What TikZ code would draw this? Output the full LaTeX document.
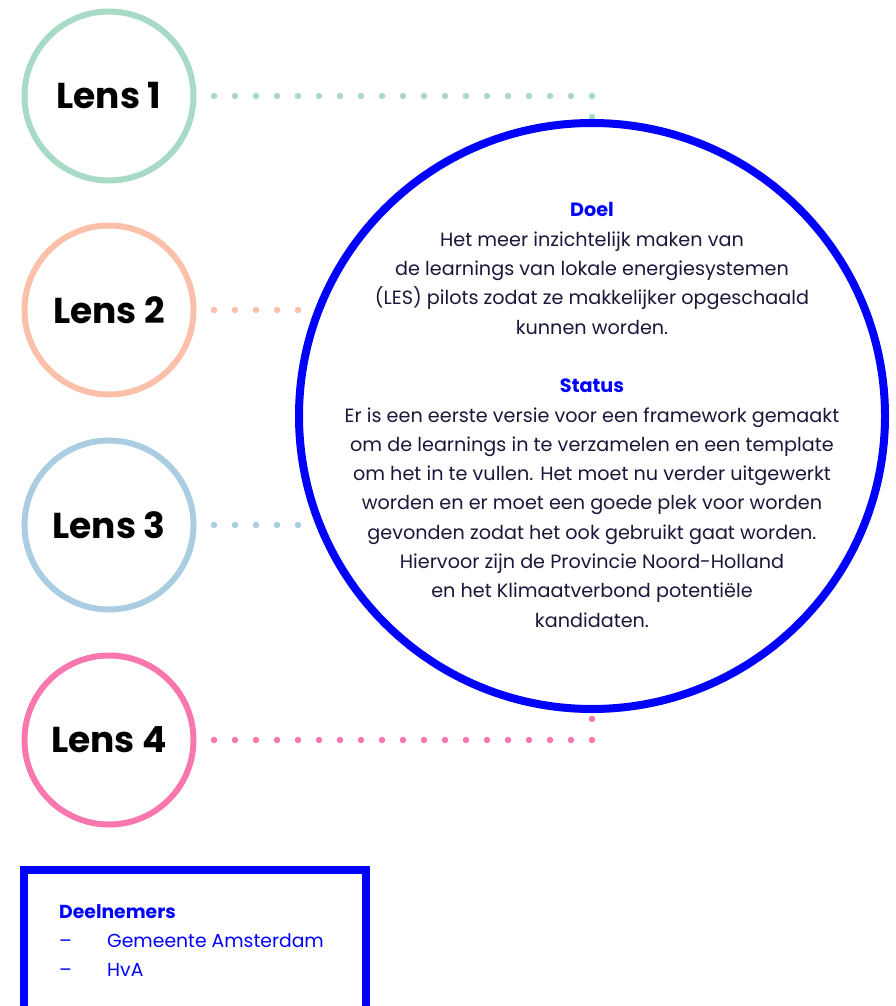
\documentclass[tikz,border=0pt]{standalone}
\usepackage{fontspec}
\setmainfont{Poppins}
\usetikzlibrary{positioning}
\definecolor{lensgreen}{RGB}{168,219,197}
\definecolor{lenssalmon}{RGB}{251,192,170}
\definecolor{lensblue}{RGB}{170,205,226}
\definecolor{lenspink}{RGB}{248,120,174}
\definecolor{kernblauw}{RGB}{0,0,255}
\definecolor{tekstdonker}{RGB}{30,22,58}

\begin{document}
\begin{tikzpicture}[x=1pt,y=-1pt]
	\tikzset{
		lens/.style={circle, draw, line width=6pt, minimum size=169pt, inner sep=0pt,
			font=\fontsize{36}{40}\selectfont\bfseries},
		dotline/.style={line width=6.5pt, line cap=round, dash pattern=on 0pt off 21pt},
		kern/.style={circle, draw=kernblauw, fill=white, line width=8pt, minimum size=586pt,
			inner sep=0pt},
		kerntekst/.style={align=center, text=tekstdonker, inner sep=0pt,
			font=\fontsize{19.2}{29.3}\selectfont}
	}
	\useasboundingbox (0,0) rectangle (895,1006);
	\clip (0,0) rectangle (895,1006);
	% de vier lenzen
	\node[lens, draw=lensgreen] (lens1) at (109,96) {Lens 1};
	\node[lens, draw=lenssalmon] (lens2) at (109,310) {Lens 2};
	\node[lens, draw=lensblue] (lens3) at (109,525) {Lens 3};
	\node[lens, draw=lenspink] (lens4) at (109,740) {Lens 4};
	\coordinate (midden) at (592,416);
	% stippellijnen naar het midden
	\draw[dotline, lensgreen] ([xshift=17.5pt]lens1.east) -| (midden);
	\draw[dotline, lenssalmon] ([xshift=17.5pt]lens2.east) -| (midden);
	\draw[dotline, lensblue] ([xshift=17.5pt]lens3.east) -| (midden);
	\draw[dotline, lenspink] ([xshift=17.5pt]lens4.east) -| (midden);
	% grote cirkel
	\node[kern] (kern) at (midden) {};
	\node[kerntekst] (doel) at ([yshift=1pt]kern.center) {%
		\textcolor{kernblauw}{\bfseries Doel}\\
		Het meer inzichtelijk maken van\\
		de learnings van lokale energiesystemen\\
		(LES) pilots zodat ze makkelijker opgeschaald\\
		kunnen worden.\\[29.3pt]
		\textcolor{kernblauw}{\bfseries Status}\\
		Er is een eerste versie voor een framework gemaakt\\
		om de learnings in te verzamelen en een template\\
		om het in te vullen. Het moet nu verder uitgewerkt\\
		worden en er moet een goede plek voor worden\\
		gevonden zodat het ook gebruikt gaat worden.\\
		Hiervoor zijn de Provincie Noord-Holland\\
		en het Klimaatverbond potentiële\\
		kandidaten.};
	% deelnemers
	\draw[kernblauw, line width=8pt] (24,870) rectangle (366,1040);
	\node[anchor=north west, align=left, text=kernblauw, inner sep=0pt,
		font=\fontsize{18.8}{29}\selectfont] (deelnemers) at (59,904) {%
		{\bfseries Deelnemers}\\
		\makebox[48pt][l]{–}Gemeente Amsterdam\\
		\makebox[48pt][l]{–}HvA};
\end{tikzpicture}
\end{document}
